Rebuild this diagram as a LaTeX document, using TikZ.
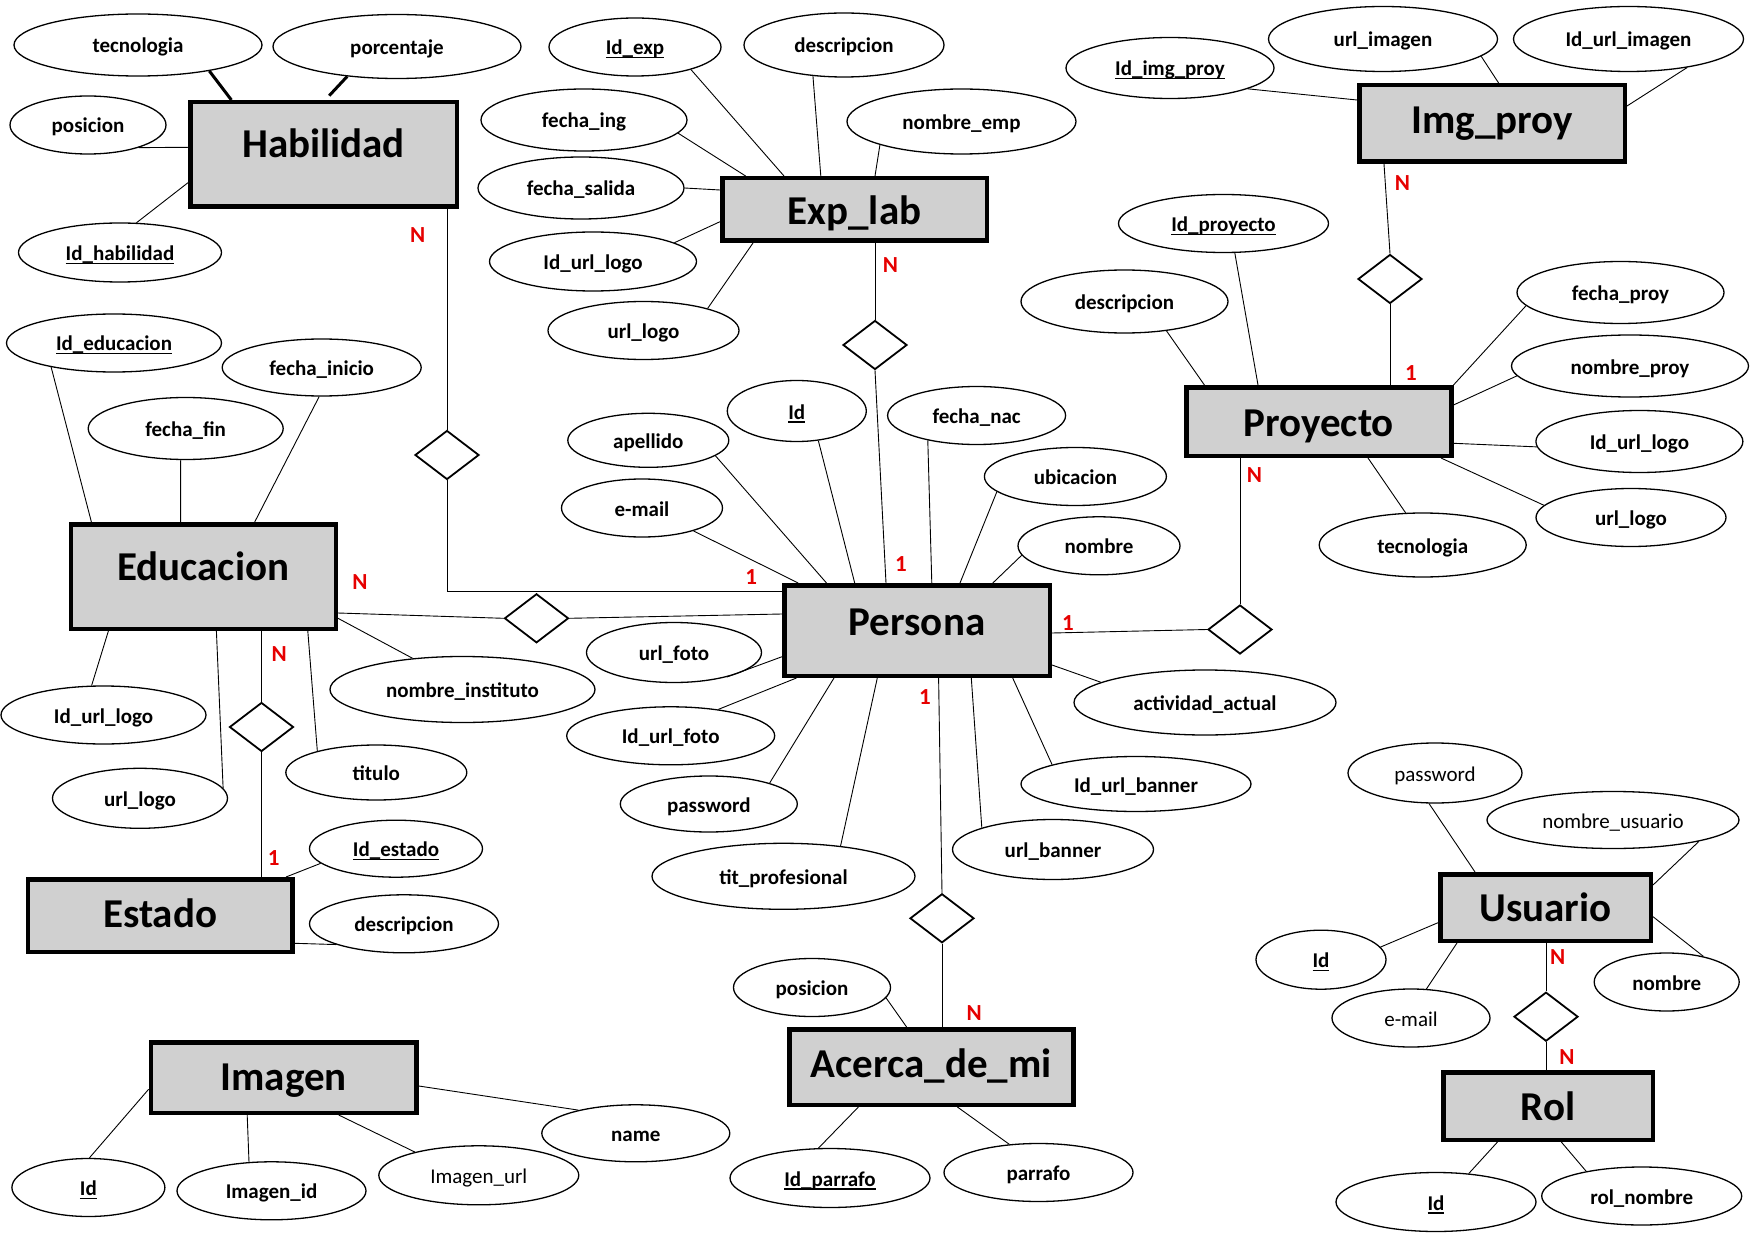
\documentclass[tikz,border=0pt]{standalone}
\usepackage{fontspec}
\setmainfont{Carlito}
\usetikzlibrary{shapes.geometric}
\definecolor{entgray}{RGB}{208,208,208}
\definecolor{cardred}{RGB}{230,0,0}
\newcommand\entfont{\fontsize{41}{48}\selectfont\bfseries}
\newcommand\attfont{\fontsize{21}{25}\selectfont\bfseries}
\newcommand\attrfont{\fontsize{21}{25}\selectfont}
\newcommand\cardfont{\fontsize{23}{27}\selectfont\bfseries}
\newsavebox\ulbox
\newcommand\ulkey[1]{\sbox\ulbox{#1}\rlap{\rule[-3.5pt]{\wd\ulbox}{1.3pt}}\usebox\ulbox}
\begin{document}
\begin{tikzpicture}[x=1pt,y=-1pt,
  sz/.style 2 args={minimum width=#1pt, minimum height=#2pt},
  attr/.style={ellipse, draw, line width=1.3pt, fill=white, inner sep=0pt, font=\attfont, text height=16pt, text depth=0pt},
  attrreg/.style={attr, font=\attrfont},
  ent/.style={rectangle, draw, line width=4.5pt, fill=entgray, inner sep=0pt, font=\entfont, text height=28pt, text depth=8pt},
  rel/.style={diamond, draw, line width=1.8pt, fill=white, inner sep=0pt, minimum width=64pt, minimum height=49pt},
  conn/.style={line width=0.9pt},
  boldconn/.style={line width=3pt},
  card/.style={font=\cardfont, text=cardred, inner sep=0pt}]
\useasboundingbox (0,0) rectangle (1754,1241);
\fill[white] (0,0) rectangle (1754,1241);

% ---------- entities ----------
\node[ent, sz={266.5}{104.5}, text depth=22.4pt] (Habilidad) at (323.5,154.5) {Habilidad};
\node[ent, sz={264.5}{62.5}, text height=31pt, text depth=0pt] (Explab) at (854.5,209.5) {Exp\_lab};
\node[ent, sz={265.5}{76.5}, text depth=8.4pt] (Imgproy) at (1492,123.5) {Img\_proy};
\node[ent, sz={265}{68.5}, text height=29pt, text depth=0pt] (Proyecto) at (1318.75,421.5) {Proyecto};
\node[ent, sz={265}{104.5}, text depth=19.6pt] (Educacion) at (203.25,576.5) {Educacion};
\node[ent, sz={265.5}{90.5}, text depth=19pt] (Persona) at (917,630.5) {Persona};
\node[ent, sz={264.5}{72.5}, text depth=4.4pt] (Estado) at (160.1,915.5) {Estado};
\node[ent, sz={265.7}{70.5}, text depth=1.6pt] (Imagen) at (283.7,1077.5) {Imagen};
\node[ent, sz={284}{75.5}, text depth=7.4pt] (Acerca) at (931.3,1067) {Acerca\_de\_mi};
\node[ent, sz={210.5}{66.5}, text depth=1pt] (Usuario) at (1545.5,907.5) {Usuario};
\node[ent, sz={209.5}{67.5}, text depth=0pt] (Rol) at (1548,1106) {Rol};

% ---------- relationships ----------
\node[rel] (dH) at (447,455) {};
\node[rel] (dEx) at (875,345) {};
\node[rel] (dIP) at (1390,279) {};
\node[rel] (dPP) at (1240,629.5) {};
\node[rel] (dEP) at (536.5,618.3) {};
\node[rel] (dEE) at (261.5,727) {};
\node[rel] (dA) at (942,918.3) {};
\node[rel] (dUR) at (1546,1016.7) {};

% ---------- attributes ----------
% Habilidad
\node[attr, sz={248}{62}] (tecH) at (138,45) {tecnologia};
\node[attr, sz={248}{64}] (porH) at (397,46.5) {porcentaje};
\node[attr, sz={156}{58}] (posH) at (88,125) {posicion};
\node[attr, sz={203}{59}] (idH) at (120,252.5) {\ulkey{Id\_habilidad}};
\coordinate (porEnd) at (329.2,95.7);
% Exp_lab
\node[attr, sz={172}{58}] (idEx) at (635,47) {\ulkey{Id\_exp}};
\node[attr, sz={200}{64}] (descEx) at (844,45) {descripcion};
\node[attr, sz={229}{65}] (nomEx) at (961.5,121.5) {nombre\_emp};
\node[attr, sz={206}{62}] (fiEx) at (584,120) {fecha\_ing};
\node[attr, sz={206}{62}] (fsEx) at (581,188) {fecha\_salida};
\node[attr, sz={207}{59}] (iulEx) at (593,261.5) {Id\_url\_logo};
\node[attr, sz={191}{58}] (ulEx) at (643.5,330.5) {url\_logo};
% Img_proy
\node[attr, sz={208}{61}] (idIP) at (1170,68) {\ulkey{Id\_img\_proy}};
\node[attr, sz={229}{65}] (uiIP) at (1383,39) {url\_imagen};
\node[attr, sz={230}{65}] (iuiIP) at (1628.5,39) {Id\_url\_imagen};
% Proyecto
\node[attr, sz={210}{58}] (idPr) at (1223.5,223.5) {\ulkey{Id\_proyecto}};
\node[attr, sz={207}{63}] (descPr) at (1124.5,301.5) {descripcion};
\node[attr, sz={207}{62}] (fpPr) at (1620.5,292.5) {fecha\_proy};
\node[attr, sz={237}{62}] (npPr) at (1630,366) {nombre\_proy};
\node[attr, sz={207}{62}] (iulPr) at (1639.4,441.5) {Id\_url\_logo};
\node[attr, sz={190}{58}] (ulPr) at (1631,517.5) {url\_logo};
\node[attr, sz={207}{64}] (tecPr) at (1422.7,545) {tecnologia};
% Educacion
\node[attr, sz={215}{58}] (idEd) at (114,343) {\ulkey{Id\_educacion}};
\node[attr, sz={199}{57}] (fiEd) at (321.7,367.5) {fecha\_inicio};
\node[attr, sz={195}{62}] (ffEd) at (185.7,428.5) {fecha\_fin};
\node[attr, sz={265}{66}] (niEd) at (462.5,689.5) {nombre\_instituto};
\node[attr, sz={205}{58}] (iulEd) at (103.5,715) {Id\_url\_logo};
\node[attr, sz={175}{60}] (ulEd) at (140,798.3) {url\_logo};
\node[attr, sz={181}{55}] (tiEd) at (376.3,772.5) {titulo};
% Estado
\node[attr, sz={173}{57}] (idEs) at (396,848.7) {\ulkey{Id\_estado}};
\node[attr, sz={189}{58}] (descEs) at (404,923.8) {descripcion};
% Persona
\node[attr, sz={161}{54}] (apP) at (648.3,440.3) {apellido};
\node[attr, sz={139}{61}] (idP) at (796.8,411) {\ulkey{Id}};
\node[attr, sz={178}{58}] (fnP) at (976.6,415.5) {fecha\_nac};
\node[attr, sz={182}{58}] (ubP) at (1075.4,476.5) {ubicacion};
\node[attr, sz={162}{58}] (noP) at (1099,545.8) {nombre};
\node[attr, sz={161}{58}] (emP) at (642,508) {e-mail};
\node[attr, sz={175}{60}] (ufP) at (674,652.5) {url\_foto};
\node[attr, sz={208}{58}] (iufP) at (670.7,735.8) {Id\_url\_foto};
\node[attr, sz={177}{56}] (pwP) at (708.8,804) {password};
\node[attr, sz={263}{66}] (tpP) at (783.5,876.3) {tit\_profesional};
\node[attr, sz={201}{60}] (ubnP) at (1053,849.5) {url\_banner};
\node[attr, sz={230}{55}] (iubP) at (1136,784) {Id\_url\_banner};
\node[attr, sz={262}{65}] (aaP) at (1205,702.5) {actividad\_actual};
% Usuario
\node[attrreg, sz={174}{60}] (pwU) at (1435,773) {password};
\node[attrreg, sz={252}{57}] (nuU) at (1613,820) {nombre\_usuario};
\node[attr, sz={130}{59}] (idU) at (1321,959.7) {\ulkey{Id}};
\node[attrreg, sz={158}{58}] (emU) at (1411,1018) {e-mail};
\node[attr, sz={145}{58}] (noU) at (1666.7,982) {nombre};
% Rol
\node[attr, sz={200}{59}] (idR) at (1436,1202) {\ulkey{Id}};
\node[attr, sz={200}{58}] (rnR) at (1641.7,1196) {rol\_nombre};
% Acerca_de_mi
\node[attr, sz={157}{58}] (poA) at (812,987.5) {posicion};
\node[attr, sz={200}{59}] (ipA) at (830,1178) {\ulkey{Id\_parrafo}};
\node[attr, sz={189}{58}] (paA) at (1038.5,1172.5) {parrafo};
% Imagen
\node[attr, sz={153}{58}] (idI) at (88.4,1187.5) {\ulkey{Id}};
\node[attr, sz={189}{58}] (iiI) at (271.5,1190.8) {Imagen\_id};
\node[attrreg, sz={200}{59}] (iuI) at (478.8,1175.3) {Imagen\_url};
\node[attr, sz={188}{57}] (naI) at (635.8,1133.3) {name};

% ---------- cardinalities ----------
\node[card] (cH) at (417.7,235) {N};
\node[card] (cEx) at (890.4,265) {N};
\node[card] (cIP) at (1402.4,182.7) {N};
\node[card] (cPr1) at (1411,373) {1};
\node[card] (cPrN) at (1254.4,475) {N};
\node[card] (cEdR) at (360,581.7) {N};
\node[card] (cEdD) at (279.2,654.3) {N};
\node[card] (cEs) at (273.6,858.3) {1};
\node[card] (cPL) at (751.2,576.7) {1};
\node[card] (cPT) at (901,564) {1};
\node[card] (cPR) at (1068,623.3) {1};
\node[card] (cPB) at (925,697.3) {1};
\node[card] (cA) at (974.3,1012.7) {N};
\node[card] (cU) at (1557.6,956.7) {N};
\node[card] (cR) at (1567,1057.3) {N};

% ---------- connectors ----------
% Habilidad
\draw[boldconn] (tecH.-20.4) -- (Habilidad.north -| 231.4,0);
\draw[boldconn] (porH.211.7) -- (porEnd);
\draw[conn] (posH.-24.6) -- (Habilidad.west |- 0,147.3);
\draw[conn] (idH.61.8) -- (Habilidad.west |- 0,182.7);
\draw[conn] (Habilidad.south -| dH.north) -- (dH.north);
\draw[conn] (dH.south) |- (Persona.west |- 0,591.7);
% Exp_lab
\draw[conn] (idEx.-22.6) -- (Explab.north -| 784,0);
\draw[conn] (descEx.-135.5) -- (Explab.north -| 820.8,0);
\draw[conn] (nomEx.196.1) -- (Explab.north -| 875,0);
\draw[conn] (fiEx.-8.3) -- (Explab.north -| 745.6,0);
\draw[conn] (fsEx.0) -- (Explab.west |- 0,190);
\draw[conn] (iulEx.13) -- (Explab.west |- 0,221.7);
\draw[conn] (ulEx.19.3) -- (Explab.south -| 753,0);
\draw[conn] (Explab.south -| dEx.north) -- (dEx.north);
\draw[conn] (dEx.south) -- (Persona.north -| 886,0);
% Img_proy
\draw[conn] (idIP.-15.8) -- (Imgproy.west |- 0,100);
\draw[conn] (uiIP.-10.2) -- (Imgproy.north -| 1498.6,0);
\draw[conn] (iuiIP.-26.5) -- (Imgproy.east |- 0,106);
\draw[conn] (Proyecto.north -| dIP.south) -- (dIP.south);
\draw[conn] (dIP.north) -- (Imgproy.south -| 1384,0);
% Proyecto
\draw[conn] (idPr.-69.1) -- (Proyecto.north -| 1258,0);
\draw[conn] (descPr.-35.6) -- (Proyecto.north -| 1204.4,0);
\draw[conn] (fpPr.188) -- (Proyecto.north east);
\draw[conn] (npPr.185.4) -- (Proyecto.east |- 0,405);
\draw[conn] (iulPr.183.8) -- (Proyecto.east |- 0,443.3);
\draw[conn] (ulPr.172) -- (Proyecto.south -| 1441,0);
\draw[conn] (tecPr.118.8) -- (Proyecto.south -| 1368,0);
\draw[conn] (dPP.north) -- (Proyecto.south -| dPP.north);
\draw[conn] (Persona.east |- 0,633) -- (dPP.west);
% Educacion
\draw[conn] (idEd.-159.4) -- (Educacion.north -| 91.4,0);
\draw[conn] (fiEd.-95.4) -- (Educacion.north -| 254.7,0);
\draw[conn] (ffEd.-99.35) -- (Educacion.north -| 180.6,0);
\draw[conn] (niEd.148.3) -- (Educacion.east |- 0,618.3);
\draw[conn] (Educacion.east |- 0,613) -- (dEP.west);
\draw[conn] (dEP.east) -- (Persona.west |- 0,614);
\draw[conn] (iulEd.112.8) -- (Educacion.south -| 108.4,0);
\draw[conn] (ulEd.7) -- (Educacion.south -| 216.4,0);
\draw[conn] (tiEd.160) -- (Educacion.south -| 307.8,0);
\draw[conn] (Educacion.south -| dEE.north) -- (dEE.north);
\draw[conn] (dEE.south) -- (Estado.north -| dEE.south);
% Estado
\draw[conn] (idEs.191.1) -- (Estado.north -| 286,0);
\draw[conn] (descEs.197.1) -- (Estado.east |- 0,943.3);
% Persona
\draw[conn] (apP.-13) -- (Persona.north -| 826.5,0);
\draw[conn] (idP.-54.9) -- (Persona.north -| 854.7,0);
\draw[conn] (fnP.-153.4) -- (Persona.north -| 931.8,0);
\draw[conn] (ubP.191.4) -- (Persona.north -| 960,0);
\draw[conn] (noP.187.3) -- (Persona.north -| 992.8,0);
\draw[conn] (emP.-24) -- (Persona.north -| 798.2,0);
\draw[conn] (ufP.-25.4) -- (Persona.west |- 0,656.7);
\draw[conn] (iufP.29.6) -- (Persona.south -| 796.4,0);
\draw[conn] (pwP.19) -- (Persona.south -| 834,0);
\draw[conn] (tpP.28.4) -- (Persona.south -| 877.3,0);
\draw[conn] (ubnP.163.4) -- (Persona.south -| 971.3,0);
\draw[conn] (iubP.167) -- (Persona.south -| 1012.7,0);
\draw[conn] (aaP.169) -- (Persona.east |- 0,665);
\draw[conn] (Persona.south -| 938.6,0) -- (dA.north);
\draw[conn] (dA.south) -- (Acerca.north -| dA.south);
% Acerca_de_mi
\draw[conn] (poA.-8.6) -- (Acerca.north -| 906.6,0);
\draw[conn] (ipA.111.8) -- (Acerca.south -| 858.4,0);
\draw[conn] (paA.136.8) -- (Acerca.south -| 957.4,0);
% Usuario / Rol
\draw[conn] (pwU.-101.3) -- (Usuario.north -| 1475,0);
\draw[conn] (nuU.-14.4) -- (Usuario.east |- 0,885);
\draw[conn] (idU.12.2) -- (Usuario.west |- 0,922.7);
\draw[conn] (emU.62) -- (Usuario.south -| 1457,0);
\draw[conn] (noU.35.6) -- (Usuario.east |- 0,916.7);
\draw[conn] (Usuario.south -| dUR.north) -- (dUR.north);
\draw[conn] (dUR.south) -- (Rol.north -| dUR.south);
\draw[conn] (idR.41.7) -- (Rol.south -| 1497.5,0);
\draw[conn] (rnR.156.8) -- (Rol.south -| 1561.3,0);
% Imagen
\draw[conn] (idI.88) -- (Imagen.west |- 0,1089.3);
\draw[conn] (iiI.128.4) -- (Imagen.south -| 247.2,0);
\draw[conn] (iuI.160.8) -- (Imagen.south -| 338.7,0);
\draw[conn] (naI.158) -- (Imagen.east |- 0,1086);
\end{tikzpicture}
\end{document}
